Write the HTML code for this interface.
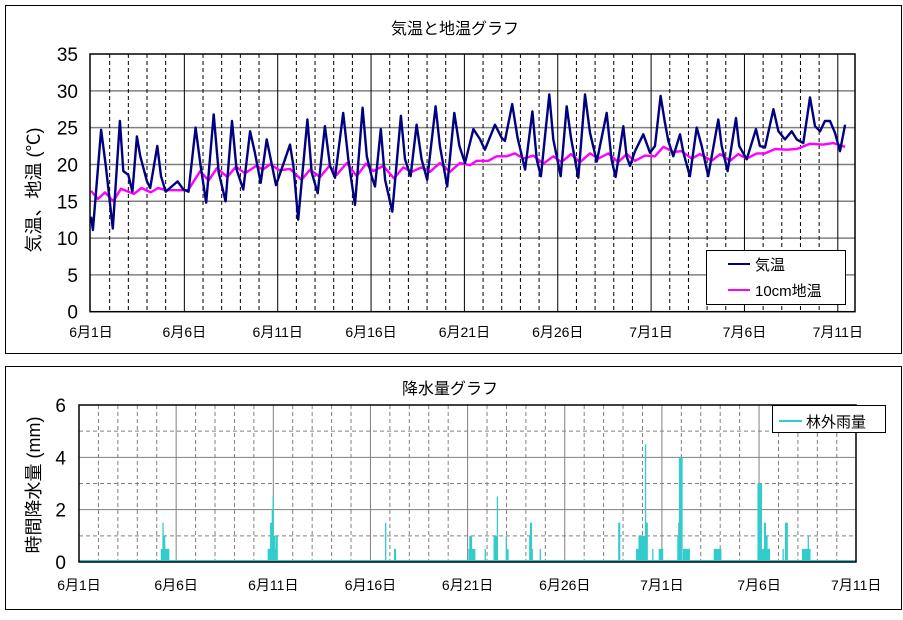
<!DOCTYPE html>
<html><head><meta charset="utf-8"><style>
body{margin:0;background:#fff;}
svg text{font-family:"Liberation Sans","Noto Sans CJK JP",sans-serif;}
</style></head><body>
<svg id="svg" width="903" height="615" viewBox="0 0 903 615" xmlns="http://www.w3.org/2000/svg">
<rect x="5.5" y="5.5" width="896" height="348" fill="#fff" stroke="#000"/>
<rect x="5.5" y="366.5" width="896" height="243" fill="#fff" stroke="#000"/>
<text x="455" y="34" font-size="16" text-anchor="middle">気温と地温グラフ</text>
<text x="450" y="394" font-size="16" text-anchor="middle">降水量グラフ</text>
<text transform="translate(40,190) rotate(-90)" font-size="18" text-anchor="middle">気温、地温 (℃)</text>
<text transform="translate(40,485) rotate(-90)" font-size="18" text-anchor="middle">時間降水量 (mm)</text>
<g id="topG"></g>
<g id="botG"></g>
<g>
<rect x="706.5" y="250.5" width="139" height="54" fill="#fff" stroke="#000"/>
<line x1="728" y1="264" x2="750" y2="264" stroke="#000080" stroke-width="2"/>
<text x="755" y="270" font-size="15">気温</text>
<line x1="728" y1="290" x2="750" y2="290" stroke="#ff00ff" stroke-width="2"/>
<text x="755" y="296" font-size="15">10cm地温</text>
</g>
<g>
<rect x="772.5" y="405.5" width="113" height="27" fill="#fff" stroke="#000"/>
<line x1="779" y1="421" x2="802" y2="421" stroke="#33cccc" stroke-width="2"/>
<text x="806" y="427" font-size="15">林外雨量</text>
</g>
</svg>
<script>
const dateLabels=["6月1日","6月6日","6月11日","6月16日","6月21日","6月26日","7月1日","7月6日","7月11日"];
const tempTicks=[0,5,10,15,20,25,30,35];
const rainTicks=[0,2,4,6];
const airDay=[0,0.1,0.54,0.8,1.17,1.55,1.73,2.0,2.22,2.46,2.64,3.0,3.17,3.55,3.75,4.0,4.32,4.64,4.95,5.22,5.6,5.87,6.17,6.57,6.84,7.21,7.55,7.8,8.16,8.52,8.78,9.09,9.41,9.91,10.39,10.66,10.84,11.1,11.59,11.82,12.14,12.53,12.8,13.07,13.51,13.78,14.14,14.55,14.77,15.03,15.21,15.52,15.75,16.14,16.6,16.82,17.12,17.44,17.71,18.01,18.46,18.69,19.08,19.46,19.73,20.03,20.48,20.84,21.1,21.64,22.0,22.17,22.56,22.85,23.25,23.64,23.87,24.1,24.55,24.76,25.16,25.48,25.71,26.1,26.46,26.73,27.09,27.62,27.88,28.1,28.51,28.69,28.87,29.14,29.58,29.94,30.21,30.51,30.74,30.92,31.19,31.55,31.73,32.08,32.44,32.71,33.06,33.6,33.78,34.1,34.55,34.72,35.12,35.62,35.83,36.1,36.55,36.82,37.17,37.53,37.8,38.15,38.51,38.78,39.05,39.31,39.58,39.85,40.12,40.39];
const airTemp=[12.9,11.1,24.7,19.7,11.3,25.9,19.1,18.6,16.3,23.8,21.1,17.7,16.8,22.5,18.4,16.3,17,17.7,16.6,16.3,25,19.8,14.8,26.8,18.9,15,25.9,19.3,16.6,24.5,21.6,17.5,23.4,17.2,20.7,22.7,19.8,12.5,26.1,18.9,16.1,25.2,19.8,18.2,27,20.7,14.5,27.7,21.1,18.4,17,24.8,17.9,13.6,26.6,20.7,18.4,25.4,20.7,17.9,27.9,22.5,17,27,22.5,20.2,24.8,23.4,22,25.4,23.6,23.2,28.2,23.6,19.3,27.2,20.7,18.4,29.5,23.4,18.4,27.9,23.6,18.2,29.5,24.3,20.4,27,20.7,18.3,25.2,21.1,19.8,21.8,24.1,21.6,22.5,29.3,25.7,23.2,21.1,24.1,21.6,18.4,25,22.5,18.4,26.1,22.5,19.1,26.3,22.5,20.7,24.8,22.5,22.3,27.5,24.5,23.4,24.5,23.4,22.9,29.1,25.2,24.5,25.9,25.9,24.3,21.8,25.4];
const soilDay=[0,0.37,0.75,1.2,1.6,2.3,2.7,3.2,3.6,4.0,5.2,5.85,6.3,6.75,7.3,7.76,8.25,8.85,9.2,9.6,10.1,10.66,11.28,11.73,12.27,12.77,13.16,13.7,14.23,14.73,15.12,15.66,16.23,16.73,17.18,17.71,18.16,18.69,19.23,19.76,20.3,20.66,21.28,21.73,22.26,22.71,23.16,23.69,24.23,24.76,25.2,25.71,26.19,26.73,27.17,27.71,28.24,28.69,29.14,29.67,30.21,30.66,31.19,31.64,32.17,32.62,33.25,33.7,34.23,34.67,35.12,35.66,36.1,36.64,37.26,37.8,38.51,39.22,39.76,40.39];
const soilTemp=[16.4,15.3,16.2,15,16.7,16,16.8,16.2,16.8,16.5,16.5,19.1,17.8,19.5,18.3,19.7,18.8,19.8,19.3,20,19.2,19.4,17.9,19.3,18.3,19.8,18.6,20.2,18.4,20.1,19.1,19.8,18.1,19.6,19,19.6,19,20.2,19,20.2,19.9,20.5,20.5,21.1,21.1,21.5,20.8,21.2,20.1,21.1,20.3,21.4,20.3,21.5,20.8,21.5,20.3,21.4,20.5,21.2,21.1,22.4,21.7,21.8,20.8,21.4,20.5,21.4,20.5,21.4,20.8,21.5,21.5,22.1,22,22.1,22.8,22.7,22.9,22.4];
const rainHour=[101,102,103,104,105,106,107,108,109,110,233,234,235,236,237,238,239,240,241,242,243,244,378,389,390,481,482,483,484,485,486,487,488,501,512,513,514,515,516,527,528,529,556,557,558,559,569,666,667,688,689,690,691,692,693,694,695,696,697,698,699,700,701,708,716,717,718,719,720,739,740,741,742,743,744,746,747,748,749,750,751,752,753,784,785,786,787,788,789,790,791,792,838,839,840,841,842,843,844,845,846,847,848,849,850,851,852,869,872,873,874,893,894,895,896,897,898,899,900,901,902];
const rainMm=[0.5,0.5,1.5,1,1,0.5,0.5,0.5,0.5,0.5,0.5,0.5,0.5,1.5,1.5,2,2.5,1,1,0.5,1,1,1.5,0.5,0.5,0.5,1,1,1,0.5,0.5,0.5,0.5,0.5,1,1,1,1,2.5,1,0.5,0.5,1,1.5,1.5,0.5,0.5,1.5,1.5,0.5,0.5,0.5,1,1,1,1,1,1,1,1,4.5,1.5,1.5,0.5,0.5,0.5,0.5,0.5,0.5,1,1.5,4,4,4,4,0.5,0.5,0.5,0.5,0.5,0.5,0.5,0.5,0.5,0.5,0.5,0.5,0.5,0.5,0.5,0.5,0.5,3,3,3,3,3,0.5,0.5,0.5,1.5,1.5,1,1,0.5,0.5,0.5,0.5,1.5,1.5,1.5,0.5,0.5,0.5,0.5,0.5,0.5,0.5,1,0.5,0.5];

const NS="http://www.w3.org/2000/svg";
function mk(p,t,a){const e=document.createElementNS(NS,t);for(const k in a)e.setAttribute(k,a[k]);p.appendChild(e);return e;}
const T={x0:91,dx:18.67,left:90,right:855,top:54,bottom:311.7,min:0,max:35};
const tx=d=>T.x0+d*T.dx, ty=v=>T.bottom-(v-T.min)/(T.max-T.min)*(T.bottom-T.top);
const topG=document.getElementById('topG');
tempTicks.forEach(v=>{
  if(v>0&&v<35){const l=mk(topG,'line',{x1:T.left,x2:T.right,y1:ty(v),y2:ty(v),stroke:'#808080','stroke-width':1.5});
  
  }
  const t=mk(topG,'text',{x:78,y:ty(v)+7,'font-size':19,'text-anchor':'end'});t.textContent=v;
  
  
});
for(let d=1;d<=40;d++){
  const x=tx(d);const solid=d%5===0;
  const attrs={x1:x,x2:x,y1:T.top,y2:T.bottom,stroke:'#000','stroke-width':1};
  if(!solid)attrs['stroke-dasharray']='4,3';
  const l=mk(topG,'line',attrs);
  
  
}
dateLabels.forEach((s,i)=>{const t=mk(topG,'text',{x:tx(i*5),y:337,'font-size':14,'text-anchor':'middle'});t.textContent=s;
  
  });
function poly(days,vals,col,name){const p=mk(topG,'polyline',{points:days.map((d,i)=>tx(d).toFixed(1)+','+ty(vals[i]).toFixed(1)).join(' '),fill:'none',stroke:col,'stroke-width':2.4,'stroke-linejoin':'round'});
  
  }
poly(soilDay,soilTemp,'#ff00ff','soil-temp-line');
poly(airDay,airTemp,'#000080','air-temp-line');
const frame=mk(topG,'rect',{x:T.left,y:T.top,width:T.right-T.left,height:T.bottom-T.top,fill:'none',stroke:'#000','stroke-width':1.5});



const B={x0:79,dx:19.43,right:856,top:405,bottom:562,max:6};
const bx=d=>B.x0+d*B.dx, by=v=>B.bottom-v/B.max*(B.bottom-B.top);
const botG=document.getElementById('botG');
for(let v=1;v<6;v++){const attrs={x1:B.x0,x2:B.right,y1:by(v),y2:by(v),stroke:'#808080','stroke-width':1};
  if(v%2)attrs['stroke-dasharray']='4,3';
  const l=mk(botG,'line',attrs);
  
  }
for(let d=1;d<40;d++){const attrs={x1:bx(d),x2:bx(d),y1:B.top,y2:B.bottom,stroke:'#808080','stroke-width':1};
  if(d%5)attrs['stroke-dasharray']='4,3';
  const l=mk(botG,'line',attrs);
  
  }
rainTicks.forEach(v=>{const t=mk(botG,'text',{x:66,y:by(v)+7,'font-size':19,'text-anchor':'end'});t.textContent=v;
  
  });
dateLabels.forEach((s,i)=>{const t=mk(botG,'text',{x:bx(i*5),y:590,'font-size':14,'text-anchor':'middle'});t.textContent=s;
  
  });
rainHour.forEach((h,i)=>{const x=bx(h/24);const r=mk(botG,'rect',{x:x,y:by(rainMm[i]),width:B.dx/24+0.5,height:B.bottom-by(rainMm[i]),fill:'#33cccc'});
  
  });
const base=mk(botG,'line',{x1:B.x0,x2:B.right,y1:B.bottom-1,y2:B.bottom-1,stroke:'#33cccc','stroke-width':2});


const f2=mk(botG,'rect',{x:B.x0,y:B.top,width:B.right-B.x0,height:B.bottom-B.top,fill:'none',stroke:'#000','stroke-width':1.5});


</script>
</body></html>
